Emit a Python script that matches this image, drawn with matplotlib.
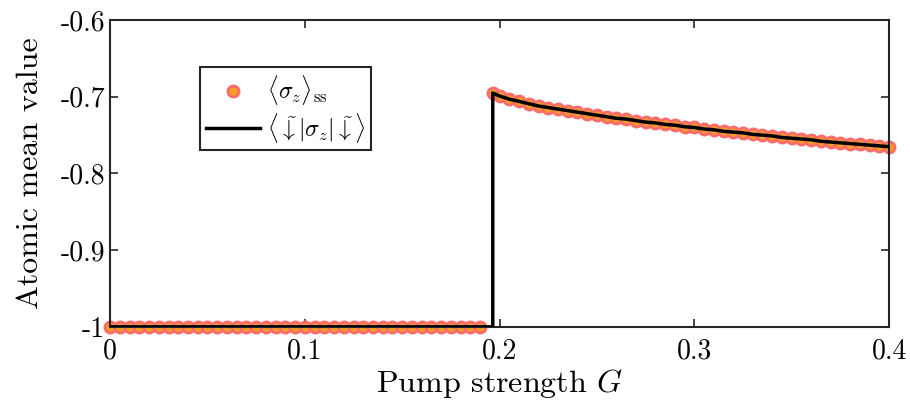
import numpy as np
import matplotlib
matplotlib.use('Agg')
import matplotlib.pyplot as plt

plt.rcParams['font.family'] = 'serif'
plt.rcParams['font.serif'] = ['cmr10']
plt.rcParams['mathtext.fontset'] = 'cm'
plt.rcParams['axes.unicode_minus'] = False

# data
g_low = [0.000, 0.005, 0.010, 0.015, 0.020, 0.025, 0.030, 0.035, 0.040, 0.045,
         0.050, 0.055, 0.060, 0.065, 0.070, 0.075, 0.080, 0.085, 0.090, 0.095,
         0.100, 0.105, 0.110, 0.115, 0.120, 0.125, 0.130, 0.135, 0.140, 0.145,
         0.150, 0.155, 0.160, 0.165, 0.170, 0.175, 0.180, 0.185, 0.190]
sz_low = [-1.0] * len(g_low)

g_high = [0.1965, 0.200, 0.205, 0.210, 0.215, 0.220, 0.225, 0.230, 0.235, 0.240,
          0.245, 0.250, 0.255, 0.260, 0.265, 0.270, 0.275, 0.280, 0.285, 0.290,
          0.295, 0.300, 0.305, 0.310, 0.315, 0.320, 0.325, 0.330, 0.335, 0.340,
          0.345, 0.350, 0.355, 0.360, 0.365, 0.370, 0.375, 0.380, 0.385, 0.390,
          0.395, 0.400]
sz_high = [-0.695, -0.699, -0.703, -0.706, -0.709, -0.712, -0.714, -0.716, -0.718, -0.720,
           -0.722, -0.724, -0.726, -0.728, -0.729, -0.731, -0.733, -0.734, -0.736, -0.737,
           -0.739, -0.740, -0.742, -0.743, -0.745, -0.746, -0.747, -0.749, -0.750, -0.751,
           -0.753, -0.754, -0.755, -0.756, -0.758, -0.759, -0.760, -0.761, -0.762, -0.763,
           -0.764, -0.765]

x_ticks = [0, 0.1, 0.2, 0.3, 0.4]
x_labels = ['0', '0.1', '0.2', '0.3', '0.4']
y_ticks = [-1, -0.9, -0.8, -0.7, -0.6]
y_labels = ['-1', '-0.9', '-0.8', '-0.7', '-0.6']

fig = plt.figure(figsize=(9.1, 4.03), dpi=100)
ax = fig.add_axes([0.121, 0.189, 0.856, 0.761])

g_all = g_low + g_high
sz_all = sz_low + sz_high
ax.plot(g_all, sz_all, 'o', ms=8, mfc='#F0A020', mec='#FF6B6B', mew=2,
        label=r'$\langle\sigma_z\rangle_{\rm ss}$', zorder=2, clip_on=False)

line_g = g_low + [g_high[0]] + g_high
line_sz = sz_low + [-1.0] + sz_high
ax.plot(line_g, line_sz, '-', color='black', lw=2.5,
        label=r'$\langle\tilde{\downarrow}|\sigma_z|\tilde{\downarrow}\rangle$', zorder=3)

ax.set_xlim(0, 0.4)
ax.set_ylim(-1, -0.6)
ax.set_xticks(x_ticks)
ax.set_xticklabels(x_labels)
ax.set_yticks(y_ticks)
ax.set_yticklabels(y_labels)
ax.tick_params(direction='in', length=6, width=1.2, labelsize=20, top=True, right=True,
               color='#262626')
ax.tick_params(axis='x', pad=8)
for s in ax.spines.values():
    s.set_linewidth(1.5)
    s.set_color('#262626')

ax.set_xlabel(r'Pump strength $G$', fontsize=23, labelpad=2)
ax.set_ylabel('Atomic mean value', fontsize=23, labelpad=12)

leg = ax.legend(loc='upper left', bbox_to_anchor=(0.115, 0.847), fontsize=17,
                fancybox=False, edgecolor='#262626', framealpha=1, borderaxespad=0,
                handlelength=2.3, handletextpad=0.3, borderpad=0.25, labelspacing=0.15)
leg.get_frame().set_linewidth(1.5)

fig.savefig('out.png', dpi=100)
